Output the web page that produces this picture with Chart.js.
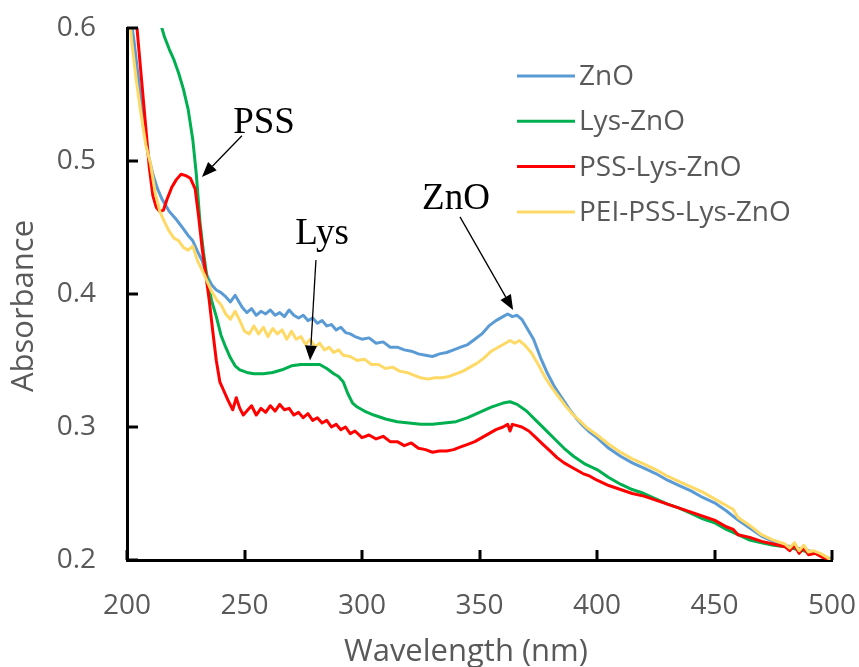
<!DOCTYPE html>
<html>
<head>
<meta charset="utf-8">
<script src="https://cdn.jsdelivr.net/npm/chart.js"></script>
<style>
  html, body { margin: 0; padding: 0; background: #fff; }
</style>
</head>
<body>
<canvas id="uv-chart" width="859" height="667"></canvas>
<script>
// series labels and colours (Excel palette)
const seriesNames = ['ZnO', 'Lys-ZnO', 'PSS-Lys-ZnO', 'PEI-PSS-Lys-ZnO'];
const seriesColors = ['#5B9BD5', '#00B050', '#FF0000', '#FFD966'];
const xTicks = [200, 250, 300, 350, 400, 450, 500];
const yTicks = [0.2, 0.3, 0.4, 0.5, 0.6];

// ZnO
const znoWl = [201,203,205,207,209,211,213,215,218,221,224,226,228,230,232,234,236,238,240,242,244,246,247,249,251,253,255,257,259,261,263,265,267,269,271,273,275,277,279,281,283,285,287,289,291,293,295,297,300,303,306,309,312,315,318,321,324,327,330,333,336,339,342,345,348,351,354,357,360,362,364,366,368,370,373,376,379,382,385,388,391,394,397,400,405,410,415,420,425,430,435,440,445,450,455,460,465,470,475,480,485,490,495,500];
const znoAbs = [0.615,0.59,0.56,0.525,0.505,0.49,0.479,0.471,0.462,0.456,0.449,0.444,0.44,0.432,0.425,0.414,0.407,0.403,0.401,0.398,0.394,0.399,0.396,0.39,0.386,0.389,0.384,0.387,0.385,0.388,0.384,0.386,0.383,0.388,0.384,0.382,0.384,0.38,0.382,0.378,0.38,0.376,0.377,0.373,0.375,0.371,0.37,0.368,0.366,0.367,0.363,0.364,0.36,0.36,0.358,0.357,0.355,0.354,0.353,0.355,0.356,0.358,0.36,0.362,0.366,0.37,0.376,0.38,0.383,0.385,0.383,0.384,0.381,0.375,0.366,0.352,0.34,0.33,0.322,0.314,0.307,0.301,0.296,0.292,0.284,0.278,0.273,0.269,0.265,0.26,0.256,0.252,0.247,0.243,0.237,0.23,0.224,0.218,0.214,0.211,0.209,0.207,0.204,0.2];

// Lys-ZnO
const lysWl = [214,216,218,220,222,224,226,228,229.5,231,232.5,234,236,238,240,242,244,246,248,251,254,258,262,266,270,274,278,282,285,288,290,292,294,296,298,301,305,310,315,320,325,330,335,340,345,350,355,360,363,366,370,374,378,382,386,390,395,400,405,410,415,420,425,430,435,440,445,450,455,460,465,470,475,480,485,490,495,500];
const lysAbs = [0.605,0.593,0.584,0.576,0.566,0.554,0.539,0.516,0.49,0.455,0.432,0.413,0.395,0.383,0.369,0.36,0.352,0.346,0.343,0.341,0.34,0.34,0.341,0.343,0.346,0.347,0.347,0.347,0.344,0.34,0.338,0.334,0.325,0.318,0.315,0.312,0.309,0.306,0.304,0.303,0.302,0.302,0.303,0.304,0.307,0.311,0.315,0.318,0.319,0.317,0.312,0.305,0.298,0.291,0.284,0.278,0.272,0.268,0.262,0.257,0.253,0.25,0.246,0.242,0.239,0.235,0.231,0.228,0.223,0.219,0.215,0.213,0.211,0.21,0.208,0.206,0.204,0.2];

// PSS-Lys-ZnO
const pssWl = [204,206,208,209.5,211,212.5,214,215.5,217,219,221,223,225,227,229,230.5,232,233.5,235,236.5,238,239.5,241,243,245,246.5,248,249.5,251,253,255,257,259,261,263,265,267,269,271,273,275,277,279,281,283,285,287,289,291,293,295,297,300,303,306,309,312,315,318,321,324,327,330,333,336,339,342,345,348,351,354,357,360,362,363,364,366,368,371,374,377,380,383,386,390,394,397,400,405,410,415,420,425,430,435,440,445,450,455,458,460,465,470,475,480,482,484,486,488,490,493,496,500];
const pssAbs = [0.605,0.565,0.525,0.495,0.474,0.465,0.462,0.463,0.471,0.48,0.486,0.49,0.489,0.487,0.479,0.458,0.434,0.415,0.395,0.372,0.35,0.334,0.328,0.32,0.313,0.322,0.314,0.309,0.312,0.316,0.309,0.314,0.311,0.316,0.312,0.317,0.313,0.314,0.309,0.311,0.307,0.31,0.305,0.307,0.303,0.305,0.3,0.302,0.298,0.3,0.295,0.297,0.292,0.294,0.291,0.293,0.289,0.289,0.286,0.288,0.284,0.283,0.281,0.282,0.282,0.283,0.285,0.287,0.289,0.292,0.295,0.298,0.3,0.302,0.297,0.302,0.301,0.3,0.297,0.292,0.287,0.282,0.277,0.273,0.269,0.265,0.263,0.26,0.256,0.253,0.25,0.248,0.245,0.242,0.239,0.236,0.233,0.23,0.225,0.223,0.219,0.217,0.214,0.212,0.21,0.207,0.211,0.205,0.209,0.204,0.205,0.202,0.2];

// PEI-PSS-Lys-ZnO
const peiWl = [200.5,202,204,206,208,210,212,214,216,218,220,222,224,226,228,230,232,234,236,238,240,242,244,246,248,250,252,254,256,258,260,262,264,266,268,270,272,274,276,278,280,282,284,286,288,290,292,295,298,301,304,307,310,313,316,319,322,325,328,331,334,337,340,343,346,349,352,355,358,361,363,365,367,369,372,375,378,381,384,387,390,393,396,400,405,410,415,420,425,430,435,440,445,450,455,458,460,465,470,475,480,482,484,486,488,490,492,495,498,500];
const peiAbs = [0.62,0.59,0.56,0.535,0.512,0.498,0.476,0.462,0.454,0.447,0.442,0.44,0.435,0.433,0.436,0.425,0.418,0.41,0.402,0.396,0.392,0.385,0.381,0.387,0.38,0.372,0.37,0.376,0.37,0.375,0.368,0.374,0.37,0.373,0.366,0.372,0.366,0.368,0.362,0.366,0.36,0.363,0.358,0.36,0.356,0.358,0.354,0.353,0.35,0.351,0.347,0.347,0.344,0.345,0.342,0.341,0.339,0.337,0.336,0.337,0.337,0.338,0.34,0.342,0.345,0.348,0.352,0.357,0.36,0.363,0.365,0.363,0.365,0.362,0.356,0.347,0.337,0.329,0.322,0.315,0.309,0.304,0.299,0.294,0.287,0.281,0.276,0.272,0.268,0.263,0.259,0.255,0.251,0.246,0.241,0.238,0.232,0.226,0.219,0.215,0.212,0.209,0.213,0.207,0.211,0.206,0.207,0.205,0.202,0.199];

// peak labels with arrows, in data units (nm, absorbance)
const noteTexts = ['PSS', 'Lys', 'ZnO'];
const noteTextAt = [[258.3, 0.521], [283, 0.4376], [340, 0.464]];
const noteArrowFrom = [[248.9, 0.519], [280.4, 0.4256], [341.7, 0.458]];
const noteArrowTo = [[231.9, 0.488], [277.9, 0.350], [364.3, 0.388]];

const wavelengths = [znoWl, lysWl, pssWl, peiWl];
const absorbances = [znoAbs, lysAbs, pssAbs, peiAbs];

const GREY = '#595959';
const SANS = '"Open Sans", "Liberation Sans", sans-serif';

function toPoints(xs, ys) {
    return xs.map((x, i) => ({ x: x, y: ys[i] }));
}

function drawArrow(ctx, x1, y1, x2, y2) {
    const ang = Math.atan2(y2 - y1, x2 - x1);
    const head = 15, half = 6;
    const bx = x2 - head * Math.cos(ang), by = y2 - head * Math.sin(ang);
    ctx.beginPath();
    ctx.moveTo(x1, y1);
    ctx.lineTo(bx, by);
    ctx.stroke();
    ctx.beginPath();
    ctx.moveTo(x2, y2);
    ctx.lineTo(bx + half * Math.sin(ang), by - half * Math.cos(ang));
    ctx.lineTo(bx - half * Math.sin(ang), by + half * Math.cos(ang));
    ctx.closePath();
    ctx.fill();
}

// let the tick labels hang outside the plot box like Excel does
function noLabelPadding(s) {
    s.paddingTop = 0;
    s.paddingBottom = 0;
    s.paddingLeft = 0;
    s.paddingRight = 0;
}

// inward tick marks, legend, axis titles and peak notes
const decorPlugin = {
    id: 'decor',
    afterDraw(chart) {
        const ctx = chart.ctx;
        const xs = chart.scales.x, ys = chart.scales.y;
        const area = chart.chartArea;
        ctx.save();

        // tick marks pointing into the plot
        ctx.strokeStyle = '#000';
        ctx.lineWidth = 3;
        xTicks.forEach(v => {
            const px = Math.round(xs.getPixelForValue(v));
            ctx.beginPath();
            ctx.moveTo(px, area.bottom);
            ctx.lineTo(px, area.bottom - 10);
            ctx.stroke();
        });
        yTicks.forEach(v => {
            const py = Math.round(ys.getPixelForValue(v));
            ctx.beginPath();
            ctx.moveTo(area.left, py);
            ctx.lineTo(area.left + 11, py);
            ctx.stroke();
        });

        // legend
        ctx.font = '28px ' + SANS;
        ctx.textBaseline = 'middle';
        ctx.textAlign = 'left';
        chart.data.datasets.forEach((ds, i) => {
            const y = 76 + i * 45.3;
            ctx.strokeStyle = ds.borderColor;
            ctx.lineWidth = 3;
            ctx.beginPath();
            ctx.moveTo(517, y);
            ctx.lineTo(575, y);
            ctx.stroke();
            ctx.fillStyle = GREY;
            ctx.fillText(ds.label, 579, y + 1);
        });

        // axis titles
        ctx.fillStyle = GREY;
        ctx.font = '31px ' + SANS;
        ctx.textAlign = 'center';
        ctx.textBaseline = 'middle';
        ctx.fillText('Wavelength (nm)', 466, 652);
        ctx.save();
        ctx.translate(24, 306);
        ctx.rotate(-Math.PI / 2);
        ctx.fillText('Absorbance', 0, 0);
        ctx.restore();

        // peak notes
        ctx.fillStyle = '#000';
        ctx.strokeStyle = '#000';
        ctx.lineWidth = 1.3;
        ctx.font = '37px "Liberation Serif", "Times New Roman", serif';
        ctx.textBaseline = 'alphabetic';
        noteTexts.forEach((t, i) => {
            ctx.fillText(t, xs.getPixelForValue(noteTextAt[i][0]), ys.getPixelForValue(noteTextAt[i][1]));
            drawArrow(ctx,
                xs.getPixelForValue(noteArrowFrom[i][0]), ys.getPixelForValue(noteArrowFrom[i][1]),
                xs.getPixelForValue(noteArrowTo[i][0]), ys.getPixelForValue(noteArrowTo[i][1]));
        });
        ctx.restore();
    }
};

new Chart(document.getElementById('uv-chart').getContext('2d'), {
    type: 'line',
    data: {
        datasets: seriesNames.map((name, i) => ({
            label: name,
            data: toPoints(wavelengths[i], absorbances[i]),
            borderColor: seriesColors[i],
            backgroundColor: seriesColors[i],
            borderWidth: 3,
            pointRadius: 0,
            tension: 0,
            borderJoinStyle: 'round',
            order: seriesNames.length - i
        }))
    },
    options: {
        responsive: false,
        animation: false,
        devicePixelRatio: 1,
        layout: { padding: { left: 0, right: 27, top: 28, bottom: 0 } },
        plugins: {
            legend: { display: false },
            tooltip: { enabled: false },
            title: { display: false }
        },
        scales: {
            x: {
                type: 'linear',
                min: 200,
                max: 500,
                afterBuildTicks: s => { s.ticks = xTicks.map(v => ({ value: v })); },
                afterFit: s => { s.height = 107; noLabelPadding(s); },
                grid: { display: false, drawTicks: false },
                border: { display: true, color: '#000', width: 3 },
                ticks: {
                    color: GREY,
                    font: { family: SANS, size: 28 },
                    padding: 29,
                    maxRotation: 0
                }
            },
            y: {
                min: 0.2,
                max: 0.6,
                afterBuildTicks: s => { s.ticks = yTicks.map(v => ({ value: v })); },
                afterFit: s => { s.width = 127; noLabelPadding(s); },
                grid: { display: false, drawTicks: false },
                border: { display: true, color: '#000', width: 3 },
                ticks: {
                    color: GREY,
                    font: { family: SANS, size: 28 },
                    padding: 31,
                    callback: v => v.toFixed(1)
                }
            }
        }
    },
    plugins: [decorPlugin]
});
</script>
</body>
</html>
